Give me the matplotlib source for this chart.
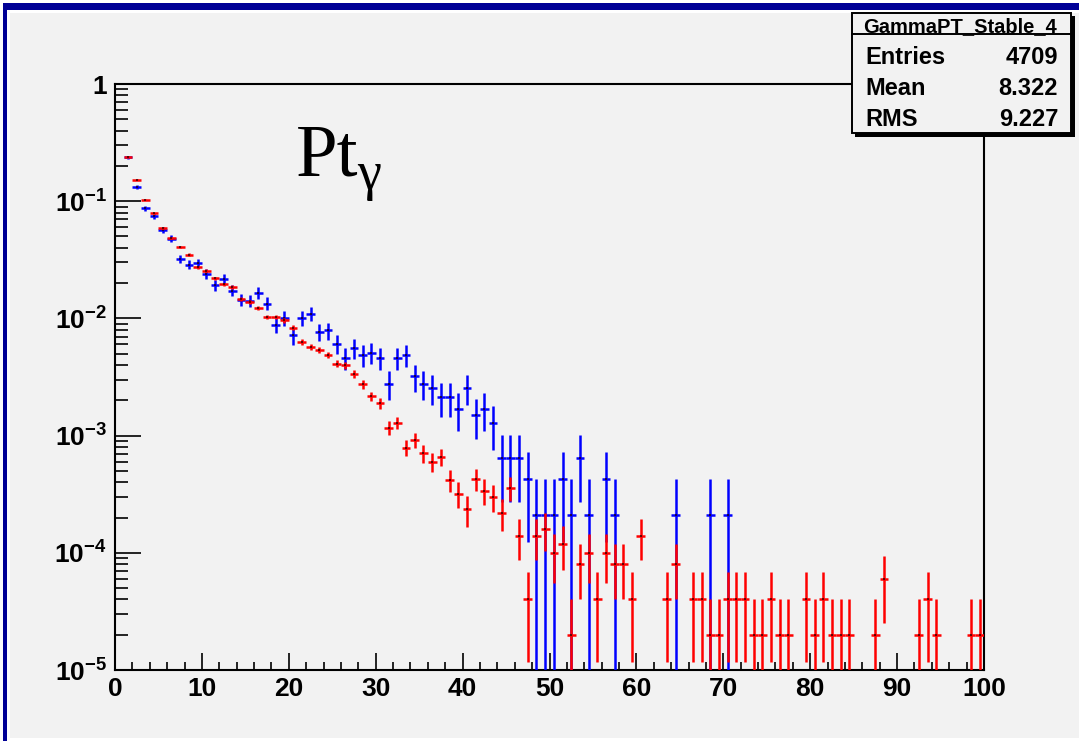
import numpy as np
import matplotlib
matplotlib.use('Agg')
import matplotlib.pyplot as plt
from matplotlib.patches import Rectangle
from matplotlib.lines import Line2D
from matplotlib.ticker import FixedLocator, FixedFormatter, MultipleLocator, LogLocator, NullFormatter

# ---------------- data ----------------
blue_x = [1.5, 2.5, 3.5, 4.5, 5.5, 6.5, 7.5, 8.5, 9.5, 10.5, 11.5, 12.5, 13.5, 14.5,
          15.5, 16.5, 17.5, 18.5, 19.5, 20.5, 21.5, 22.5, 23.5, 24.5, 25.5, 26.5, 27.5,
          28.5, 29.5, 30.5, 31.5, 32.5, 33.5, 34.5, 35.5, 36.5, 37.5, 38.5, 39.5, 40.5,
          41.5, 42.5, 43.5, 44.5, 45.5, 46.5, 47.5, 48.5, 49.5, 50.5, 51.5, 52.5, 53.5,
          54.5, 56.5, 57.5, 64.5, 68.5, 70.5]
blue_y = [0.236, 0.133, 0.0875, 0.0743, 0.0569, 0.048, 0.0322, 0.0288, 0.0296, 0.024,
          0.0191, 0.0218, 0.0173, 0.0144, 0.0142, 0.0166, 0.0134, 0.0088, 0.0101, 0.0072,
          0.0101, 0.011, 0.0077, 0.0079, 0.0061, 0.0046, 0.0056, 0.0049, 0.0051, 0.0046,
          0.00278, 0.0046, 0.0049, 0.0032, 0.00278, 0.00255, 0.00212, 0.00212, 0.0017,
          0.00255, 0.00149, 0.0017, 0.00127, 0.00064, 0.00064, 0.00064, 0.000425,
          0.000212, 0.000212, 0.000212, 0.000425, 0.000212, 0.00064, 0.000212,
          0.000425, 0.000212, 0.000212, 0.000212, 0.000212]
blue_entries = 4709

red_x = [1.5, 2.5, 3.5, 4.5, 5.5, 6.5, 7.5, 8.5, 9.5, 10.5, 11.5, 12.5, 13.5, 14.5,
         15.5, 16.5, 17.5, 18.5, 19.5, 20.5, 21.5, 22.5, 23.5, 24.5, 25.5, 26.5, 27.5,
         28.5, 29.5, 30.5, 31.5, 32.5, 33.5, 34.5, 35.5, 36.5, 37.5, 38.5, 39.5, 40.5,
         41.5, 42.5, 43.5, 44.5, 45.5, 46.5, 47.5, 48.5, 49.5, 50.5, 51.5, 52.5, 53.5,
         54.5, 55.5, 56.5, 57.5, 58.5, 59.5, 60.5, 63.5, 64.5, 66.5, 67.5, 68.5, 69.5,
         70.5, 71.5, 72.5, 73.5, 74.5, 75.5, 76.5, 77.5, 79.5, 80.5, 81.5, 82.5, 83.5,
         84.5, 87.5, 88.5, 92.5, 93.5, 94.5, 98.5, 99.5]
red_y = [0.24, 0.152, 0.103, 0.0787, 0.059, 0.0486, 0.0404, 0.035, 0.0273, 0.0256,
         0.022, 0.0195, 0.0185, 0.0147, 0.0139, 0.0123, 0.0103, 0.0103, 0.0096, 0.0083,
         0.0063, 0.0057, 0.0054, 0.0049, 0.0041, 0.0040, 0.00334, 0.00274, 0.00217,
         0.00188, 0.00117, 0.00129, 0.00079, 0.00092, 0.000705, 0.0006, 0.00066,
         0.00042, 0.00032, 0.000235, 0.00043, 0.00034, 0.0003, 0.00022, 0.00036,
         0.00014, 4e-5, 0.00014, 0.00016, 0.0001, 0.00012, 2e-5, 8e-5, 0.0001, 4e-5,
         0.0001, 8e-5, 8e-5, 4e-5, 0.00014, 4e-5, 8e-5, 4e-5, 4e-5, 2e-5, 2e-5, 4e-5,
         4e-5, 4e-5, 2e-5, 2e-5, 4e-5, 2e-5, 2e-5, 4e-5, 2e-5, 4e-5, 2e-5, 2e-5, 2e-5,
         2e-5, 6e-5, 2e-5, 4e-5, 2e-5, 2e-5, 2e-5]
red_entries = 50000

bin_width = 1.0
x_major = [0, 10, 20, 30, 40, 50, 60, 70, 80, 90, 100]
x_labels = ['0', '10', '20', '30', '40', '50', '60', '70', '80', '90', '100']
y_major = [1e-5, 1e-4, 1e-3, 1e-2, 1e-1, 1]
y_labels = ['$10^{-5}$', '$10^{-4}$', '$10^{-3}$', '$10^{-2}$', '$10^{-1}$', '1']

stats_title = 'GammaPT_Stable_4'
stats_rows = [('Entries', '4709'), ('Mean', '8.322'), ('RMS', '9.227')]

# ---------------- style ----------------
plt.rcParams['font.family'] = ['Liberation Sans', 'DejaVu Sans']
plt.rcParams['mathtext.fontset'] = 'custom'
plt.rcParams['mathtext.rm'] = 'Liberation Sans:bold'
plt.rcParams['mathtext.bf'] = 'Liberation Sans:bold'
plt.rcParams['mathtext.it'] = 'Liberation Sans:bold'
plt.rcParams['mathtext.default'] = 'rm'

W, H = 1079, 741
BG = '#F2F2F2'
NAVY = '#000096'

fig = plt.figure(figsize=(W / 100, H / 100), dpi=100, facecolor='white')


def fx(px):
    return px / W


def fy(py):
    return 1 - py / H


def frect(x0, y0, x1, y1, **kw):
    r = Rectangle((fx(x0), fy(y1)), fx(x1) - fx(x0), fy(y0) - fy(y1),
                  transform=fig.transFigure, **kw)
    fig.add_artist(r)
    return r


# background and canvas border
frect(10, 13, 1079, 738, facecolor=BG, edgecolor='none', zorder=-2)
frect(3, 3, 1079, 10, facecolor=NAVY, edgecolor='none', zorder=-1)
frect(3, 3, 7, 741, facecolor=NAVY, edgecolor='none', zorder=-1)

ax = fig.add_axes([fx(115), fy(670), fx(984) - fx(115), fy(84) - fy(670)])
ax.set_facecolor(BG)
ax.set_xlim(0, 100)
ax.set_yscale('log')
ax.set_ylim(1e-5, 1)

for s in ax.spines.values():
    s.set_linewidth(1.5)
    s.set_color('black')

ax.xaxis.set_major_locator(FixedLocator(x_major))
ax.xaxis.set_major_formatter(FixedFormatter(x_labels))
ax.xaxis.set_minor_locator(MultipleLocator(2))
ax.yaxis.set_major_locator(FixedLocator(y_major))
ax.yaxis.set_major_formatter(FixedFormatter(y_labels))
ax.yaxis.set_minor_locator(LogLocator(base=10, subs=np.arange(2, 10), numticks=20))
ax.yaxis.set_minor_formatter(NullFormatter())

ax.tick_params(axis='x', which='major', direction='in', length=12.5, width=1.2,
               bottom=True, top=False, labelsize=19, pad=5)
ax.tick_params(axis='x', which='minor', direction='in', length=5.8, width=1.2,
               bottom=True, top=False)
ax.tick_params(axis='y', which='major', direction='in', length=19, width=1.2,
               left=True, right=False, labelsize=19, pad=6)
ax.tick_params(axis='y', which='minor', direction='in', length=9.5, width=1.2,
               left=True, right=False)
for lab in ax.get_xticklabels() + ax.get_yticklabels():
    lab.set_fontweight('bold')


def draw_hist(xc, vals, entries, color, z):
    v = np.asarray(vals, dtype=float)
    err = np.sqrt(v / entries)
    lo = np.minimum(err, v * (1 - 1e-6))
    ax.errorbar(xc, v, xerr=bin_width / 2, yerr=[lo, err], fmt='none',
                ecolor=color, elinewidth=1.8, capsize=0, zorder=z)
    ax.plot(xc, v, ls='none', marker='s', ms=1.6, mew=0, color='#200000',
            alpha=0.7, zorder=z + 0.1)


draw_hist(blue_x, blue_y, blue_entries, '#0000FF', 3)
draw_hist(red_x, red_y, red_entries, '#FF0000', 4)

# big label
fig.text(fx(296), fy(175), 'Pt', fontsize=54, family='Liberation Serif',
         va='baseline', ha='left')
fig.text(fx(357), fy(189), '\u03b3', fontsize=39, family='Liberation Serif',
         va='baseline', ha='left')

# stats box
frect(855, 16, 1075, 137, facecolor='black', edgecolor='none', zorder=5)
frect(852, 13, 1071, 133, facecolor=BG, edgecolor='black', linewidth=1.4, zorder=6)
fig.add_artist(Line2D([fx(852), fx(1071)], [fy(34), fy(34)], color='black',
                      linewidth=1.4, transform=fig.transFigure, zorder=7))
fig.text(fx(960), fy(32), stats_title, fontsize=14.5, fontweight='bold',
         ha='center', va='baseline', zorder=8)
for i, (k, val) in enumerate(stats_rows):
    yb = 64 + 31 * i
    fig.text(fx(865), fy(yb), k, fontsize=17, fontweight='bold', ha='left',
             va='baseline', zorder=8)
    fig.text(fx(1058), fy(yb), val, fontsize=17, fontweight='bold', ha='right',
             va='baseline', zorder=8)

fig.savefig('out.png', dpi=100, facecolor=fig.get_facecolor())
